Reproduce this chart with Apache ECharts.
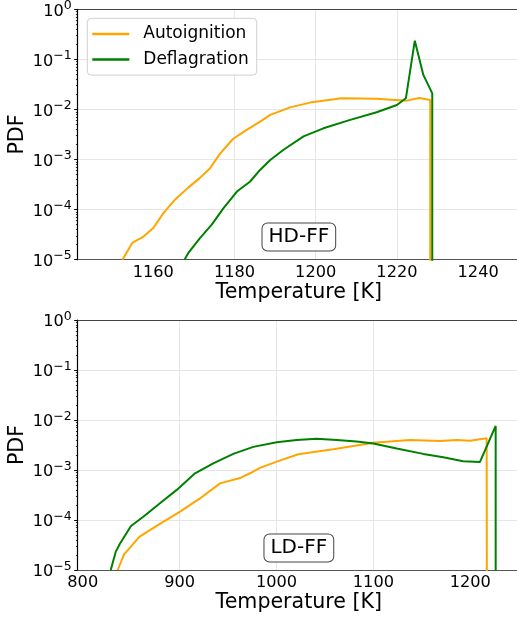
<!DOCTYPE html>
<html>
<head>
<meta charset="utf-8">
<script src="https://cdn.jsdelivr.net/npm/echarts@6/dist/echarts.min.js"></script>
<style>html,body{margin:0;padding:0;background:#fff}#c{width:517px;height:620px}</style>
</head>
<body>
<div id="c"></div>
<script>
// ---- data ----
const seriesNames = ['Autoignition', 'Deflagration'];
const panelLabels = ['HD-FF', 'LD-FF'];

const hdAutoT   = [1152.4, 1154.9, 1157.6, 1160.0, 1162.5, 1165.4, 1168.6, 1171.5, 1174.0, 1176.4, 1179.7, 1183.0, 1186.3, 1188.8, 1193.7, 1198.6, 1206.4, 1215.0, 1222.4, 1225.5, 1228.2, 1228.2];
const hdAutoPdf = [1e-5, 2.2e-5, 2.9e-5, 4.3e-5, 8.5e-5, 1.6e-4, 2.75e-4, 4.3e-4, 6.7e-4, 1.3e-3, 2.6e-3, 3.9e-3, 5.7e-3, 7.8e-3, 1.1e-2, 1.37e-2, 1.67e-2, 1.64e-2, 1.5e-2, 1.7e-2, 1.55e-2, 1e-12];

const hdDefT   = [1167.7, 1168.6, 1171.5, 1174.4, 1177.3, 1180.6, 1183.8, 1186.3, 1188.8, 1192.0, 1197.0, 1201.9, 1208.5, 1215.0, 1220.0, 1222.2, 1224.4, 1226.5, 1228.7, 1228.7];
const hdDefPdf = [1e-5, 1.35e-5, 2.7e-5, 5e-5, 1.07e-4, 2.3e-4, 3.6e-4, 6.2e-4, 9.8e-4, 1.55e-3, 2.9e-3, 4.2e-3, 6.2e-3, 8.8e-3, 1.23e-2, 1.67e-2, 0.236, 4.9e-2, 2.1e-2, 1e-12];

const ldAutoT   = [836.1, 842.6, 849.5, 858.4, 874.6, 900.4, 921.0, 941.7, 962.3, 972.6, 982.9, 1000.2, 1022.5, 1058.6, 1099.9, 1137.7, 1168.7, 1185.9, 1199.6, 1216.9, 1217.5];
const ldAutoPdf = [1e-5, 2.06e-5, 2.9e-5, 4.6e-5, 7.3e-5, 1.47e-4, 2.7e-4, 5.4e-4, 6.9e-4, 8.6e-4, 1.1e-3, 1.47e-3, 2.06e-3, 2.6e-3, 3.5e-3, 4.0e-3, 3.8e-3, 4.0e-3, 3.85e-3, 4.3e-3, 1e-12];

const ldDefT   = [828.9, 834.0, 838.5, 849.8, 862.5, 879.7, 897.0, 915.9, 934.7, 955.4, 976.0, 1000.2, 1020.8, 1041.4, 1062.1, 1082.7, 1099.9, 1124.0, 1151.5, 1172.1, 1192.7, 1210.0, 1226.2, 1226.2];
const ldDefPdf = [1e-5, 2.3e-5, 3.4e-5, 7.6e-5, 1.16e-4, 2.16e-4, 4.0e-4, 8.6e-4, 1.36e-3, 2.1e-3, 2.9e-3, 3.6e-3, 4.0e-3, 4.2e-3, 4.0e-3, 3.7e-3, 3.4e-3, 2.7e-3, 2.1e-3, 1.8e-3, 1.5e-3, 1.45e-3, 7.6e-3, 1e-12];

const hdXTicks = [1160, 1180, 1200, 1220, 1240];
const ldXTicks = [800, 900, 1000, 1100, 1200];
const hdXRange = [1141.4, 1250.3];
const ldXRange = [794.8, 1251.3];
const yRange = [1e-5, 1];
const xTitle = 'Temperature [K]';
const yTitle = 'PDF';

// ---- chart ----
const FONT = 'DejaVu Sans';
const colors = ['#FFA500', '#008000'];
const zip = (a, b) => a.map((v, i) => [v, b[i]]);

function supLabel(v) {
  const e = Math.round(Math.log10(v));
  const s = e < 0 ? '\u2212' + Math.abs(e) : String(e);
  return '{b|10}{s|' + s + '}';
}

const grids = [
  { left: 77.7, top: 9.3, right: -3, height: 250.4, containLabel: false, outerBoundsMode: 'none' },
  { left: 77.7, top: 320, right: -3, height: 250, containLabel: false, outerBoundsMode: 'none' }
];

function xAxis(idx, range, ticks) {
  return {
    type: 'value', gridIndex: idx, min: range[0], max: range[1],
    name: xTitle, nameLocation: 'middle', nameGap: 22, nameMoveOverlap: false,
    nameTextStyle: { fontFamily: FONT, fontSize: 20.6, color: '#000', lineHeight: 22, verticalAlign: 'top' },
    axisLine: { show: true, lineStyle: { color: '#555', width: 1.2 } },
    axisTick: { show: false, customValues: ticks },
    axisLabel: { customValues: ticks, formatter: v => String(v), fontFamily: FONT, fontSize: 16.2, color: '#000', margin: 5 },
    splitLine: { show: true, showMinLine: false, showMaxLine: false, lineStyle: { color: '#e6e6e6', width: 1 } }
  };
}
function topAxis(idx, range) {
  return {
    type: 'value', gridIndex: idx, min: range[0], max: range[1], position: 'top',
    axisLine: { show: true, lineStyle: { color: '#444', width: 1.2 } },
    axisTick: { show: false }, axisLabel: { show: false }, splitLine: { show: false }
  };
}
function yAxis(idx) {
  return {
    type: 'log', logBase: 10, gridIndex: idx, min: yRange[0], max: yRange[1],
    name: yTitle, nameLocation: 'middle', nameGap: 50, nameRotate: 90, nameMoveOverlap: false,
    nameTextStyle: { fontFamily: FONT, fontSize: 20.6, color: '#000' },
    axisLine: { show: true, lineStyle: { color: '#000', width: 1.2 } },
    axisTick: { show: true, length: 3.5, lineStyle: { color: '#000', width: 1 } },
    minorTick: { show: true, splitNumber: 9, length: 1.8, lineStyle: { color: '#000', width: 0.8 } },
    axisLabel: {
      formatter: supLabel, margin: 6,
      rich: {
        b: { fontFamily: FONT, fontSize: 16.2, color: '#000', lineHeight: 20, verticalAlign: 'bottom' },
        s: { fontFamily: FONT, fontSize: 12.5, color: '#000', lineHeight: 20, verticalAlign: 'top' }
      }
    },
    splitLine: { show: true, showMinLine: false, showMaxLine: false, lineStyle: { color: '#e6e6e6', width: 1 } }
  };
}

function line(name, xi, data, color) {
  return {
    name, type: 'line', xAxisIndex: xi, yAxisIndex: xi, data,
    symbol: 'none', smooth: false, lineStyle: { color, width: 2 }, itemStyle: { color },
    clip: true, animation: false
  };
}

function panelLabel(i, text) {
  const cx = 77.7 + (517 + 3 - 77.7) * 0.5;
  const cy = i === 0 ? 237 : 548;
  return {
    type: 'text', x: cx, y: cy,
    style: {
      text, font: '20px "DejaVu Sans"', fill: '#000', align: 'center', verticalAlign: 'middle',
      backgroundColor: '#fff', borderColor: '#444', borderWidth: 1, borderRadius: 5,
      padding: [4, 6, 3, 6]
    },
    z: 100
  };
}

const chart = echarts.init(document.getElementById('c'), null, { renderer: 'canvas' });
chart.setOption({
  animation: false,
  backgroundColor: '#fff',
  grid: grids,
  xAxis: [xAxis(0, hdXRange, hdXTicks), xAxis(1, ldXRange, ldXTicks), topAxis(0, hdXRange), topAxis(1, ldXRange)],
  yAxis: [yAxis(0), yAxis(1)],
  legend: {
    data: seriesNames, orient: 'vertical', left: 87.3, top: 18.3,
    icon: 'rect', itemWidth: 37, itemHeight: 2.5, itemGap: 8,
    padding: [7, 8, 7, 5],
    backgroundColor: '#fff', borderColor: '#d0d0d0', borderWidth: 1, borderRadius: 4,
    textStyle: { fontFamily: FONT, fontSize: 17, color: '#000', padding: [0, 0, 0, 9], lineHeight: 17.4 }
  },
  series: [
    line(seriesNames[0], 0, zip(hdAutoT, hdAutoPdf), colors[0]),
    line(seriesNames[1], 0, zip(hdDefT, hdDefPdf), colors[1]),
    line(seriesNames[0], 1, zip(ldAutoT, ldAutoPdf), colors[0]),
    line(seriesNames[1], 1, zip(ldDefT, ldDefPdf), colors[1])
  ],
  graphic: [panelLabel(0, panelLabels[0]), panelLabel(1, panelLabels[1])]
});
</script>
</body>
</html>
